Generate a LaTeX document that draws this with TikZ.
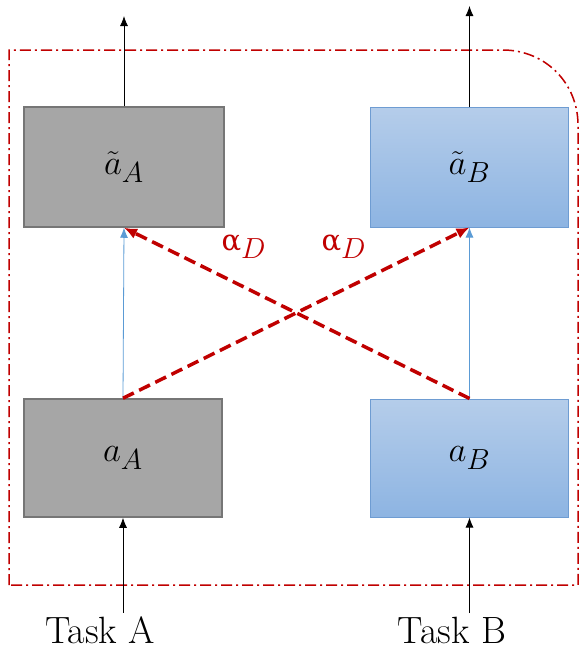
\documentclass[tikz,border=0pt]{standalone}
\usepackage{amsmath}
\usepackage{graphicx}
\usepackage{fontspec}
\newfontfamily\greekfont{DejaVu Serif}
\usepackage{xcolor}
\usetikzlibrary{arrows.meta}

\definecolor{frameRed}{HTML}{C00000}
\definecolor{boxGrey}{HTML}{A6A6A6}
\definecolor{edgeGrey}{HTML}{767676}
\definecolor{blueTop}{HTML}{B5CDEA}
\definecolor{blueBot}{HTML}{8DB4E2}
\definecolor{edgeBlue}{HTML}{6E9CD2}
\definecolor{lineBlue}{HTML}{5B9BD5}

\newcommand{\bigmath}[1]{\scalebox{1.4}{\Huge$#1$}}
\newcommand{\alphaD}{{\greekfont\fontsize{29}{30}\selectfont α}\scalebox{1.4}{\Huge$_D$}}

\tikzset{
    greybox/.style={draw=edgeGrey, line width=1.5pt, fill=boxGrey, minimum width=200pt, minimum height=120pt, inner sep=0pt},
    bluebox/.style={draw=edgeBlue, line width=1pt, top color=blueTop, bottom color=blueBot, minimum width=198pt, minimum height=120pt, inner sep=0pt},
    feed/.style={-{Latex[length=10pt,width=8pt]}, line width=0.8pt},
    share/.style={-{Latex[length=13pt,width=11pt]}, line width=3.5pt, frameRed, dash pattern=on 12pt off 6pt}
}

\begin{document}
\begin{tikzpicture}[x=1pt, y=-1pt]
    \useasboundingbox (0,0) rectangle (588,654);

    % Dash-dotted frame, top right corner rounded
    \draw[frameRed, line width=1.5pt, dash pattern=on 11pt off 4pt on 2pt off 4pt]
        (9,585) -- (9,50) -- (503,50) .. controls (545,50) and (578,83) .. (578,125) -- (578,585) -- cycle;

    % Boxes
    \node[greybox] (aTilA) at (124,167) {\bigmath{\tilde{a}_A}};
    \node[bluebox] (aTilB) at (469.5,167) {\bigmath{\tilde{a}_B}};
    \node[greybox, minimum width=198pt, minimum height=118pt] (aA) at (123,458) {\bigmath{a_A}};
    \node[bluebox, minimum height=118pt] (aB) at (469.5,458) {\bigmath{a_B}};

    % Inputs
    \node[font=\fontsize{38}{40}\selectfont] (taskA) at (100,630) {Task A};
    \node[font=\fontsize{38}{40}\selectfont] (taskB) at (452,630) {Task B};
    \draw[feed] (aA.south |- taskA.north) -- (aA.south);
    \draw[feed] (aB.south |- taskB.north) -- (aB.south);

    % Outputs
    \coordinate (outA) at (124,16);
    \coordinate (outB) at (469.5,6);
    \draw[feed] (aTilA.north) -- (outA);
    \draw[feed] (aTilB.north) -- (outB);

    % Straight links
    \draw[feed, lineBlue] (aA.north) -- (aTilA.south);
    \draw[feed, lineBlue] (aB.north) -- (aTilB.south);

    % Cross links
    \draw[share] (aA.north) -- (aTilB.south);
    \draw[share] (aB.north) -- (aTilA.south);
    \node[frameRed] (alphaL) at (244,247) {\alphaD};
    \node[frameRed] (alphaR) at (344,247) {\alphaD};
\end{tikzpicture}
\end{document}
